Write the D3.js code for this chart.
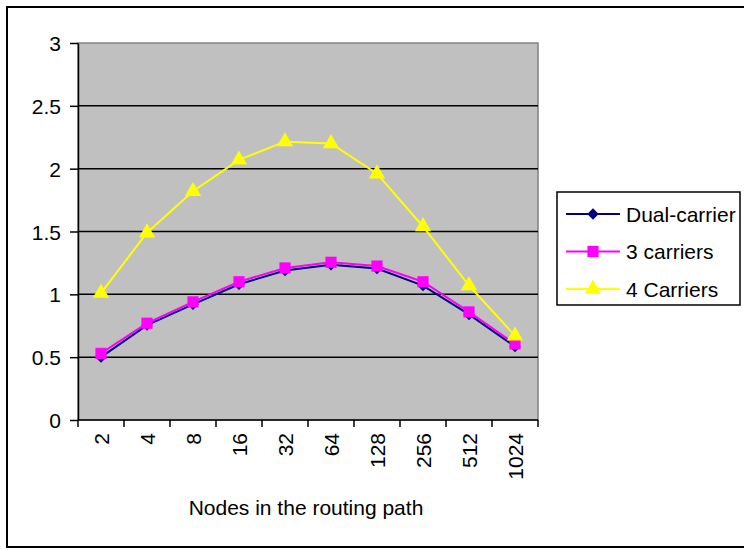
<!DOCTYPE html>
<html>
<head>
<meta charset="utf-8">
<script src="https://cdn.jsdelivr.net/npm/d3@7"></script>
<style>
  body { margin: 0; background: #fff; }
  text { font-family: "Liberation Sans", Arial, sans-serif; fill: #000; }
</style>
</head>
<body>
<svg id="chart" width="744" height="550"></svg>
<script>
// categories on the x axis
const nodeCounts = ["2", "4", "8", "16", "32", "64", "128", "256", "512", "1024"];
// series values
const dualCarrier = [0.50, 0.755, 0.92, 1.08, 1.19, 1.235, 1.205, 1.07, 0.84, 0.585];
const threeCarriers = [0.53, 0.77, 0.94, 1.10, 1.21, 1.255, 1.225, 1.10, 0.86, 0.605];
const fourCarriers = [1.01, 1.49, 1.82, 2.07, 2.215, 2.20, 1.96, 1.54, 1.07, 0.67];
const yTicks = [0, 0.5, 1, 1.5, 2, 2.5, 3];

// excel-ish diamond: a square turned 45 degrees
const diamond = {
  draw(ctx, size) {
    const r = Math.sqrt(size / 2);
    ctx.moveTo(0, -r); ctx.lineTo(r, 0); ctx.lineTo(0, r); ctx.lineTo(-r, 0); ctx.closePath();
  }
};

const series = [
  {name: "Dual-carrier", values: dualCarrier, color: "#000080", symbol: diamond, size: 65},
  {name: "3 carriers", values: threeCarriers, color: "#ff00ff", symbol: d3.symbolSquare, size: 125},
  {name: "4 Carriers", values: fourCarriers, color: "#ffff00", symbol: d3.symbolTriangle, size: 115}
];

const svg = d3.select("#chart");
const plot = {left: 78, right: 538, top: 43, bottom: 420};

// outer chart border
svg.append("rect")
  .attr("x", 7).attr("y", 7).attr("width", 760).attr("height", 540)
  .attr("fill", "#fff").attr("stroke", "#000").attr("stroke-width", 2);

const x = d3.scaleBand().domain(nodeCounts).range([plot.left, plot.right]);
const y = d3.scaleLinear().domain([0, 3]).range([plot.bottom, plot.top]);

// plot background
svg.append("rect")
  .attr("x", plot.left).attr("y", plot.top)
  .attr("width", plot.right - plot.left).attr("height", plot.bottom - plot.top)
  .attr("fill", "#c0c0c0").attr("stroke", "#808080").attr("stroke-width", 1.5);

// gridlines
svg.append("g").selectAll("line")
  .data(yTicks.filter(t => t > 0 && t < 3))
  .enter().append("line")
  .attr("x1", plot.left).attr("x2", plot.right)
  .attr("y1", d => y(d)).attr("y2", d => y(d))
  .attr("stroke", "#000").attr("stroke-width", 1.5);

// y axis
const yAxis = svg.append("g")
  .attr("transform", `translate(${plot.left},0)`)
  .call(d3.axisLeft(y).tickValues(yTicks).tickFormat(d3.format("")).tickSize(8).tickPadding(9).tickSizeOuter(0));
yAxis.attr("font-size", null).attr("font-family", null);
yAxis.selectAll("path, line").attr("stroke", "#000").attr("stroke-width", 1.5);
yAxis.selectAll("text").style("font-size", "21px").attr("dy", "0.36em");

// x axis with ticks between categories
const xAxis = svg.append("g")
  .attr("transform", `translate(0,${plot.bottom})`);
xAxis.append("line")
  .attr("x1", plot.left).attr("x2", plot.right)
  .attr("y1", 0).attr("y2", 0)
  .attr("stroke", "#000").attr("stroke-width", 1.5);
const tickXs = nodeCounts.map(c => x(c)).concat([x(nodeCounts[nodeCounts.length - 1]) + x.bandwidth()]);
xAxis.selectAll(".tk").data(tickXs).enter().append("line")
  .attr("x1", d => d).attr("x2", d => d)
  .attr("y1", 0).attr("y2", 7)
  .attr("stroke", "#000").attr("stroke-width", 1.5);
xAxis.selectAll(".lbl").data(nodeCounts).enter().append("text")
  .attr("transform", d => `translate(${x(d) + x.bandwidth() / 2 + 7.5},${13}) rotate(-90)`)
  .attr("text-anchor", "end")
  .style("font-size", "21px")
  .text(d => d);

// x axis title
svg.append("text")
  .attr("x", (plot.left + plot.right) / 2 - 2).attr("y", 515)
  .attr("text-anchor", "middle")
  .style("font-size", "21px")
  .text("Nodes in the routing path");

// lines and markers
const line = d3.line()
  .x((d, i) => x(nodeCounts[i]) + x.bandwidth() / 2)
  .y(d => y(d));

series.forEach(s => {
  const g = svg.append("g");
  g.append("path")
    .datum(s.values)
    .attr("d", line)
    .attr("fill", "none")
    .attr("stroke", s.color)
    .attr("stroke-width", 2);
  g.selectAll("path.pt").data(s.values).enter().append("path")
    .attr("class", "pt")
    .attr("transform", (d, i) => `translate(${x(nodeCounts[i]) + x.bandwidth() / 2},${y(d)})`)
    .attr("d", d3.symbol().type(s.symbol).size(s.size))
    .attr("fill", s.color);
});

// legend
const legend = svg.append("g");
legend.append("rect")
  .attr("x", 557).attr("y", 192).attr("width", 183).attr("height", 113)
  .attr("fill", "#fff").attr("stroke", "#000").attr("stroke-width", 1.5);
series.forEach((s, i) => {
  const ly = 214 + i * 37.5;
  legend.append("line")
    .attr("x1", 566).attr("x2", 620)
    .attr("y1", ly).attr("y2", ly)
    .attr("stroke", s.color).attr("stroke-width", 2);
  legend.append("path")
    .attr("transform", `translate(593,${ly})`)
    .attr("d", d3.symbol().type(s.symbol).size(s.size))
    .attr("fill", s.color);
  legend.append("text")
    .attr("x", 626).attr("y", ly + 7.5)
    .style("font-size", "21px")
    .text(s.name);
});
</script>
</body>
</html>
